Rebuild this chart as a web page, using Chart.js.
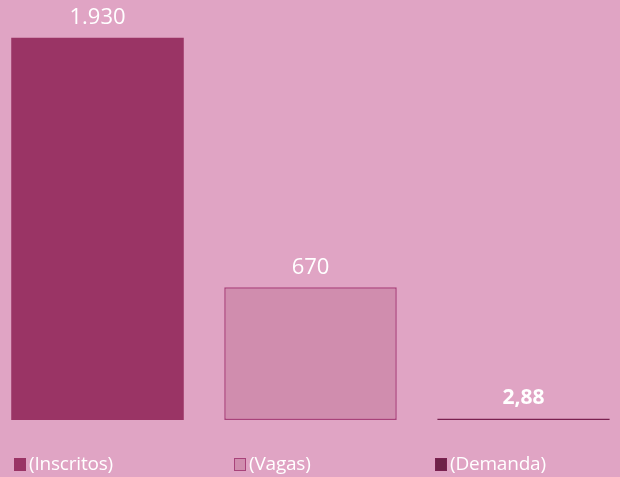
<!DOCTYPE html>
<html>
<head>
<meta charset="utf-8">
<script src="https://cdn.jsdelivr.net/npm/chart.js@4/dist/chart.umd.min.js"></script>
<style>
  html, body { margin: 0; padding: 0; background: #E0A4C4; overflow: hidden; }
  #wrap { position: absolute; left: -9px; top: 0; width: 639px; height: 477px; }
  .leg { position: absolute; top: 451px; font: 19px "Open Sans", sans-serif; color: #fff; white-space: nowrap; line-height: 24px; letter-spacing: -0.2px; }
  .leg i { display: inline-block; width: 12px; height: 13px; margin-right: 3px; vertical-align: -1px; box-sizing: border-box; }
</style>
</head>
<body>
<div id="wrap"><canvas id="chart"></canvas></div>
<div id="legend"></div>
<script>
const categories = ['(Inscritos)', '(Vagas)', '(Demanda)'];
const values = [1930, 670, 2.88];
const valueLabels = ['1.930', '670', '2,88'];
const fillColors = ['#9A3465', '#D08DAE', '#6E2248'];
const borderColors = ['#9A3465', '#A8437A', '#7A2150'];
const labelBold = [false, false, true];
const legendX = [14, 234, 435];

const valueLabelPlugin = {
    id: 'valueLabels',
    afterDatasetsDraw(chart) {
        const ctx = chart.ctx;
        const meta = chart.getDatasetMeta(0);
        ctx.save();
        ctx.fillStyle = '#ffffff';
        ctx.textAlign = 'center';
        ctx.textBaseline = 'middle';
        meta.data.forEach((bar, i) => {
            ctx.font = (labelBold[i] ? 'bold 21px' : '22px') + ' "Open Sans", sans-serif';
            ctx.fillText(valueLabels[i], bar.x, bar.y - 20);
        });
        ctx.restore();
    }
};

new Chart(document.getElementById('chart'), {
    type: 'bar',
    data: {
        labels: categories,
        datasets: [{
            data: values,
            backgroundColor: fillColors,
            borderColor: borderColors,
            borderWidth: [0, 1.5, 1],
            borderSkipped: false,
            minBarLength: 1.5,
            categoryPercentage: 1,
            barPercentage: 0.81
        }]
    },
    options: {
        responsive: true,
        maintainAspectRatio: false,
        animation: false,
        layout: { padding: { top: 24, bottom: 57, left: 0, right: 0 } },
        plugins: { legend: { display: false }, tooltip: { enabled: false } },
        scales: {
            x: { display: false },
            y: { display: false, min: 0, max: 2000 }
        }
    },
    plugins: [valueLabelPlugin]
});

const legend = document.getElementById('legend');
categories.forEach((c, i) => {
    const d = document.createElement('div');
    d.className = 'leg';
    d.style.left = legendX[i] + 'px';
    d.innerHTML = '<i style="background:' + fillColors[i] + ';border:1.5px solid ' + borderColors[i] + '"></i>' + c;
    legend.appendChild(d);
});
</script>
</body>
</html>
